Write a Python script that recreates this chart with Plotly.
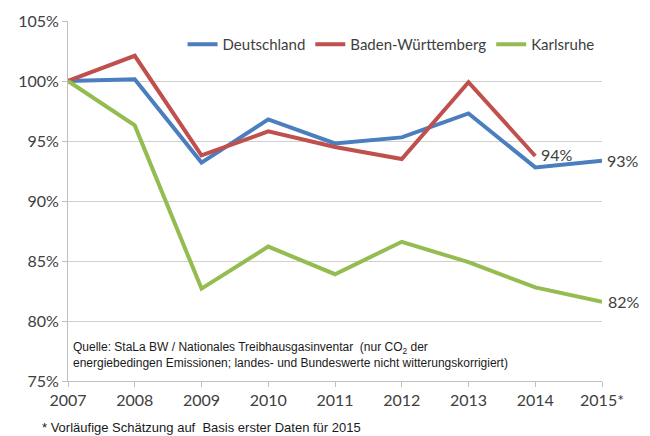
import plotly.graph_objects as go

years = [2007, 2008, 2009, 2010, 2011, 2012, 2013, 2014, 2015]
tick_labels = ["2007", "2008", "2009", "2010", "2011", "2012", "2013", "2014", "2015*"]
deutschland = [100.0, 100.15, 93.2, 96.8, 94.8, 95.3, 97.3, 92.8, 93.35]
baden_wuerttemberg = [100.0, 102.1, 93.8, 95.8, 94.5, 93.5, 99.9, 93.75]
karlsruhe = [100.0, 96.3, 82.7, 86.2, 83.9, 86.6, 84.9, 82.8, 81.6]
y_ticks = [75, 80, 85, 90, 95, 100, 105]
y_tick_labels = ["75%", "80%", "85%", "90%", "95%", "100%", "105%"]

FONT = "Lato, sans-serif"
TXT = "#404040"
SMALL = "Liberation Sans, Arial, sans-serif"

fig = go.Figure()
fig.add_trace(go.Scatter(x=years, y=deutschland, mode="lines", name="Deutschland",
                         line=dict(color="#4A7EBF", width=4), cliponaxis=False))
fig.add_trace(go.Scatter(x=years[:len(baden_wuerttemberg)], y=baden_wuerttemberg, mode="lines",
                         name="Baden-Württemberg", line=dict(color="#C0504D", width=4), cliponaxis=False))
fig.add_trace(go.Scatter(x=years, y=karlsruhe, mode="lines", name="Karlsruhe",
                         line=dict(color="#94BC50", width=4), cliponaxis=False))

# end labels
fig.add_annotation(x=years[len(baden_wuerttemberg) - 1], y=baden_wuerttemberg[-1], text="94%", showarrow=False,
                   xanchor="left", xshift=4, yshift=2, font=dict(family=FONT, size=16, color=TXT))
fig.add_annotation(x=years[-1], y=deutschland[-1], text="93%", showarrow=False,
                   xanchor="left", xshift=3, font=dict(family=FONT, size=16, color=TXT))
fig.add_annotation(x=years[-1], y=karlsruhe[-1], text="82%", showarrow=False,
                   xanchor="left", xshift=4, font=dict(family=FONT, size=16, color=TXT))

# source box
fig.add_annotation(x=2007, y=78.6, xref="x", yref="y",
                   text="Quelle: StaLa BW / Nationales Treibhausgasinventar  (nur CO<sub>2</sub> der<br>"
                        "energiebedingen Emissionen; landes- und Bundeswerte nicht witterungskorrigiert)",
                   showarrow=False, xanchor="left", yanchor="top", align="left", xshift=3,
                   bgcolor="white", font=dict(family=SMALL, size=12, color="#1a1a1a"))

# footnote
fig.add_annotation(x=(40 - 68) / 534, y=-0.13, xref="paper", yref="paper",
                   text="* Vorläufige Schätzung auf  Basis erster Daten für 2015",
                   showarrow=False, xanchor="left", yanchor="middle",
                   font=dict(family=SMALL, size=13, color="#1a1a1a"))

fig.update_layout(
    width=650, height=436,
    margin=dict(l=68, r=48, t=21, b=55),
    paper_bgcolor="white", plot_bgcolor="white",
    font=dict(family=FONT, size=16, color=TXT),
    showlegend=True,
    legend=dict(orientation="h", x=0.2145, y=0.935, xanchor="left", yanchor="middle",
                font=dict(family=FONT, size=15, color=TXT), bgcolor="rgba(0,0,0,0)",
                itemwidth=30, tracegroupgap=0),
    xaxis=dict(range=[2007, 2015], tickmode="array", tickvals=years, ticktext=tick_labels,
               showgrid=False, showline=True, linecolor="#BFBFBF", linewidth=1,
               ticks="outside", ticklen=5, tickcolor="#BFBFBF", zeroline=False, automargin=False,
               tickfont=dict(family=FONT, size=16, color=TXT)),
    yaxis=dict(range=[75, 105], tickvals=y_ticks, ticktext=y_tick_labels,
               showgrid=True, gridcolor="#D0D0D0", gridwidth=1,
               showline=True, linecolor="#BFBFBF", linewidth=1,
               ticks="outside", ticklen=5, tickcolor="#BFBFBF", zeroline=False, automargin=False,
               tickfont=dict(family=FONT, size=16, color=TXT)),
)

fig.write_html("out.html", config={"displayModeBar": False},
               post_script="document.body.style.margin='0';document.body.style.padding='0';")
